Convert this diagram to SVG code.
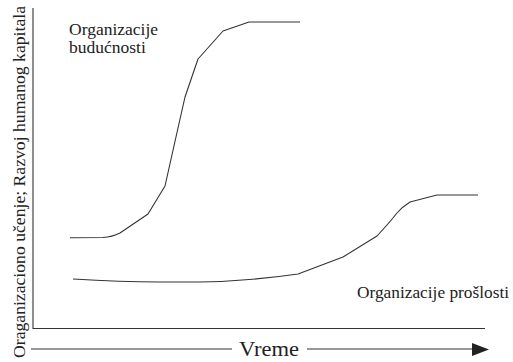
<svg xmlns="http://www.w3.org/2000/svg" width="513" height="362" viewBox="0 0 513 362">
<style>
.t{font-family:"Liberation Serif","Times New Roman",serif;fill:#222}
.ln{fill:none;stroke:#333;stroke-width:1.1;stroke-linejoin:round}
</style>
<rect width="513" height="362" fill="#fff"/>
<g id="axes">
<path class="ln" d="M33,8 V328.5 H485"/>
<text class="t" transform="translate(25,358) rotate(-90)" font-size="17.7" textLength="352" lengthAdjust="spacingAndGlyphs">Oraganizaciono učenje; Razvoj humanog kapitala</text>
</g>
<g id="time-arrow">
<path class="ln" d="M31,349 H232 M307,349 H474"/>
<polygon points="472,343 489,349.5 472,356" fill="#222"/>
<text class="t" x="239" y="356" font-size="22" textLength="60" lengthAdjust="spacingAndGlyphs">Vreme</text>
</g>
<g id="connectors">
<path id="curve-future" class="ln" d="M70,237.7 L103,237.5 Q112,237 120,233 L148,214 L165,186 L178,128 L185,97 L198,59 L223,31 L249,22 L300,22"/>
<path id="curve-past" class="ln" d="M73,279 Q120,282 160,282 L200,282 Q250,281 298,274 L343,257 L377,236 Q390,222 397,213 Q402,207 410,202 L437,195 L478,195"/>
</g>
<g id="label-future">
<text class="t" font-size="17.5"><tspan x="69" y="35">Organizacije</tspan><tspan x="69" y="53">budućnosti</tspan></text>
</g>
<g id="label-past">
<text class="t" x="357" y="298" font-size="17.5" textLength="152" lengthAdjust="spacingAndGlyphs">Organizacije prošlosti</text>
</g>
</svg>
